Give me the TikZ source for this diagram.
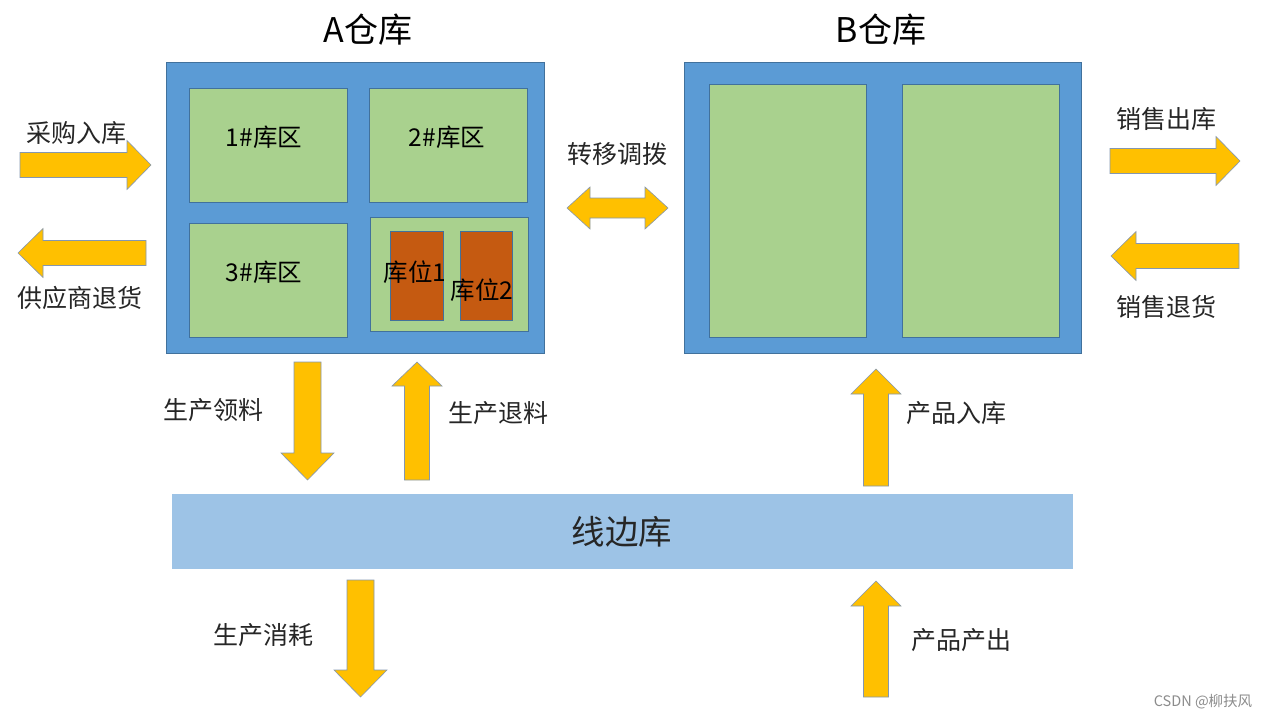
\documentclass[tikz,border=0pt]{standalone}
\usepackage{fontspec}
\setmainfont{Noto Sans CJK SC}
\usepackage{xcolor}
\definecolor{wbBlue}{HTML}{5B9BD5}
\definecolor{wbEdge}{HTML}{41719C}
\definecolor{zoneGreen}{HTML}{A9D18E}
\definecolor{binOrange}{HTML}{C55A11}
\definecolor{lineBlue}{HTML}{9DC3E6}
\definecolor{flowYellow}{HTML}{FFC000}
\definecolor{flowEdge}{HTML}{8497B0}

\begin{document}
\begin{tikzpicture}[
    x=1pt, y=-1pt,
    house/.style={draw=wbEdge, fill=wbBlue, line width=0.8pt},
    zone/.style={draw=wbEdge, fill=zoneGreen, line width=0.6pt},
    bin/.style={draw=wbEdge, fill=binOrange, line width=0.6pt},
    lineside/.style={fill=lineBlue},
    flow/.style={draw=flowEdge, fill=flowYellow, line width=0.6pt, line join=miter},
    title/.style={font=\fontsize{34}{38}\selectfont},
    tag/.style={font=\fontsize{25}{28}\selectfont, text=black!85, inner sep=0pt},
    zonetag/.style={font=\fontsize{24.5}{27}\selectfont, text=black, inner sep=0pt}
]
    \useasboundingbox[fill=white] (0,0) rectangle (1268,720);

    % A warehouse
    \draw[house] (166,62) rectangle (544,353);
    \draw[zone] (189,88) rectangle (347,202);
    \draw[zone] (369,88) rectangle (527,202);
    \draw[zone] (189,223) rectangle (347,337);
    \draw[zone] (370,217) rectangle (528,331);
    \draw[bin] (390,231) rectangle (443,320);
    \draw[bin] (460,231) rectangle (512,320);
    \node[title] (tA) at (368,30) {A仓库};
    \node[zonetag] (z1) at (264,137) {1\#库区};
    \node[zonetag] (z2) at (447,137) {2\#库区};
    \node[zonetag] (z3) at (264,272) {3\#库区};
    \node[zonetag] (b1) at (415,272) {库位1};
    \node[zonetag] (b2) at (482,290) {库位2};

    % B warehouse
    \draw[house] (684,62) rectangle (1081,353);
    \draw[zone] (709,84) rectangle (866,337);
    \draw[zone] (902,84) rectangle (1059,337);
    \node[title] (tB) at (881,30) {B仓库};

    % line-side store
    \fill[lineside] (172,494) rectangle (1073,569);
    \node[font=\fontsize{33.5}{37}\selectfont, text=black!85] (ls) at (622,532) {线边库};

    % horizontal flows
    \draw[flow] (20,152.5) -- (127,152.5) -- (127,140.5) -- (151,165) -- (127,189.5) -- (127,177.5) -- (20,177.5) -- cycle;
    \draw[flow] (146,240.5) -- (43,240.5) -- (43,228.5) -- (18,253) -- (43,277.5) -- (43,265.5) -- (146,265.5) -- cycle;
    \draw[flow] (1110,148.5) -- (1216,148.5) -- (1216,136.5) -- (1240,161) -- (1216,185.5) -- (1216,173.5) -- (1110,173.5) -- cycle;
    \draw[flow] (1239,243.5) -- (1136,243.5) -- (1136,231.5) -- (1111,256) -- (1136,280.5) -- (1136,268.5) -- (1239,268.5) -- cycle;
    \draw[flow] (567,208) -- (590,187) -- (590,198) -- (645,198) -- (645,187) -- (668,208) -- (645,229) -- (645,218) -- (590,218) -- (590,229) -- cycle;
    \node[tag] (l1) at (76,133) {采购入库};
    \node[tag] (l2) at (80,298) {供应商退货};
    \node[tag] (l3) at (1166,119) {销售出库};
    \node[tag] (l4) at (1166,307) {销售退货};
    \node[tag] (l5) at (617,154) {转移调拨};

    % vertical flows
    \draw[flow] (294,362) -- (321,362) -- (321,453) -- (334,453) -- (307.5,480) -- (281,453) -- (294,453) -- cycle;
    \draw[flow] (404.5,480) -- (404.5,386) -- (392,386) -- (417,362) -- (442,386) -- (429.5,386) -- (429.5,480) -- cycle;
    \draw[flow] (863.5,486) -- (863.5,394) -- (851,394) -- (876,369) -- (901,394) -- (888.5,394) -- (888.5,486) -- cycle;
    \draw[flow] (347,580) -- (374,580) -- (374,670) -- (387,670) -- (360.5,697) -- (334,670) -- (347,670) -- cycle;
    \draw[flow] (863.5,697) -- (863.5,606) -- (851,606) -- (876,581) -- (901,606) -- (888.5,606) -- (888.5,697) -- cycle;
    \node[tag] (l6) at (213,410) {生产领料};
    \node[tag] (l7) at (498,413) {生产退料};
    \node[tag] (l8) at (956,413) {产品入库};
    \node[tag] (l9) at (263,635) {生产消耗};
    \node[tag] (l10) at (961,640) {产品产出};

    \node[font=\fontsize{14.5}{16}\selectfont, text=black!45] (wm) at (1203,702) {CSDN @柳扶风};
\end{tikzpicture}
\end{document}
